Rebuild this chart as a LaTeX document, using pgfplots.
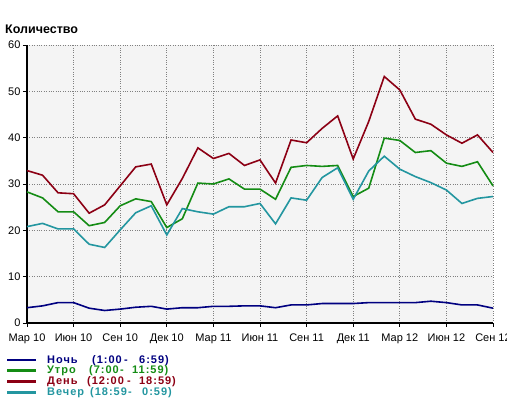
\documentclass[border=0pt]{standalone}
\usepackage{pgfplots}
\usepackage{pgfplotstable}
\pgfplotsset{compat=1.18}
\usepackage{fontspec}
\setmainfont{Liberation Sans}
\newfontfamily\legfont[LetterSpace=9]{Liberation Sans}
\definecolor{ncol}{RGB}{0,0,128}
\definecolor{ucol}{RGB}{20,140,20}
\definecolor{dcol}{RGB}{140,0,20}
\definecolor{vcol}{RGB}{35,150,160}
\definecolor{bgcol}{RGB}{244,244,244}
\newcommand\lgent[7]{\makebox[#1bp][l]{#2}\makebox[#3bp][l]{#4}\makebox[#5bp][l]{#6}#7}
\pgfplotstableread{
x n u d v
0 3.3 28.3 32.9 20.8
1 3.7 27.0 31.9 21.5
2 4.4 24.0 28.1 20.3
3 4.4 24.0 27.9 20.3
4 3.2 21.0 23.7 17.0
5 2.7 21.7 25.5 16.3
6 3.0 25.3 29.6 20.1
7 3.4 26.8 33.7 23.8
8 3.6 26.2 34.3 25.3
9 3.0 20.6 25.5 19.0
10 3.3 22.5 31.2 24.7
11 3.3 30.2 37.8 24.0
12 3.6 30.0 35.5 23.5
13 3.6 31.1 36.6 25.1
14 3.7 28.9 34.0 25.1
15 3.7 28.9 35.2 25.8
16 3.3 26.7 30.2 21.4
17 3.9 33.6 39.5 27.0
18 3.9 34.0 38.9 26.5
19 4.2 33.8 42.0 31.4
20 4.2 34.0 44.7 33.5
21 4.2 27.3 35.4 26.7
22 4.4 29.1 43.5 32.8
23 4.4 39.9 53.2 36.0
24 4.4 39.4 50.3 33.2
25 4.4 36.8 44.0 31.6
26 4.7 37.2 42.9 30.3
27 4.4 34.5 40.6 28.7
28 3.9 33.8 38.8 25.8
29 3.9 34.8 40.6 26.9
30 3.2 29.6 36.8 27.3
}\datatable
\begin{document}
\begin{tikzpicture}
\useasboundingbox (0,0) rectangle (507bp,416bp);
\begin{axis}[
  at={(27bp,93bp)}, anchor=south west,
  scale only axis, width=466bp, height=278bp,
  xmin=0, xmax=30, ymin=0, ymax=60,
  axis lines*=left,
  axis line style={line width=2bp, black},
  axis background/.style={fill=bgcol},
  grid=major,
  grid style={dotted, line width=0.7bp, gray},
  xtick={0,3,...,30},
  xticklabels={Мар 10, Июн 10, Сен 10, Дек 10, Мар 11, Июн 11, Сен 11, Дек 11, Мар 12, Июн 12, Сен 12},
  ytick={0,10,...,60},
  tick align=outside,
  major tick length=4bp,
  tick style={black, line width=1bp},
  ticklabel style={font=\fontsize{11bp}{13bp}\selectfont},
  /pgf/number format/assume math mode=true,
  yticklabel style={xshift=1bp},
  xticklabel style={yshift=-3bp},
  clip=false,
  legend style={at={(axis description cs:-0.043,-0.113)}, anchor=north west,
    draw=none, fill=none, inner sep=0pt,
    font=\legfont\bfseries\fontsize{11bp}{11bp}\selectfont,
    nodes={inner sep=0pt, text height=8.5bp, text depth=2.3bp},
    /tikz/every odd column/.append style={column sep=11bp}},
  legend cell align=left,
  legend image code/.code={\path[#1, draw=none, fill] (-1bp,-1.4bp) rectangle (28bp,1.4bp);},
]
\addplot[ncol, line width=1.6bp] table[x=x, y=n] {\datatable};
\addlegendentry{\textcolor{ncol}{\lgent{45}{Ночь}{32}{(1:00}{15}{-}{6:59)}}}
\addplot[ucol, line width=1.6bp] table[x=x, y=u] {\datatable};
\addlegendentry{\textcolor{ucol}{\lgent{42}{Утро}{31}{(7:00}{12}{-}{11:59)}}}
\addplot[dcol, line width=1.6bp] table[x=x, y=d] {\datatable};
\addlegendentry{\textcolor{dcol}{\lgent{40}{День}{40}{(12:00}{12}{-}{18:59)}}}
\addplot[vcol, line width=1.6bp] table[x=x, y=v] {\datatable};
\addlegendentry{\textcolor{vcol}{\lgent{43}{Вечер}{38}{(18:59}{14}{-}{0:59)}}}
\end{axis}
\node[anchor=west, inner sep=0pt, font=\bfseries\fontsize{12.5bp}{14bp}\selectfont] at (5bp,387bp) {Количество};
\end{tikzpicture}
\end{document}
